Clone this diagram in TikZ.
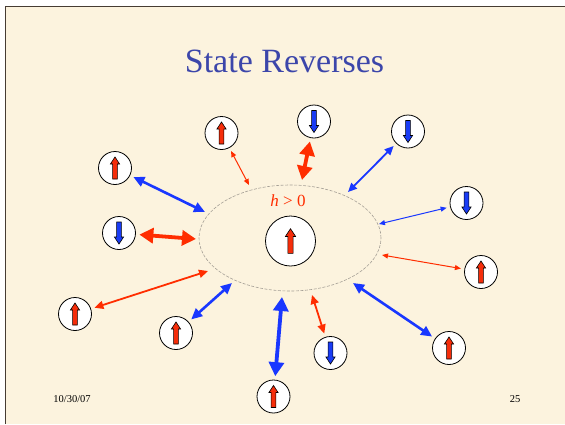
\documentclass[tikz,border=0pt]{standalone}
\usepackage{fontspec}
\setmainfont{Liberation Serif}
\usetikzlibrary{arrows.meta,shapes.geometric}

\definecolor{paper}{RGB}{252,243,222}
\definecolor{framecol}{RGB}{70,60,50}
\definecolor{titleblue}{RGB}{60,70,170}
\definecolor{linkred}{RGB}{255,45,0}
\definecolor{linkblue}{RGB}{25,55,255}
\definecolor{spinred}{RGB}{245,45,10}
\definecolor{spinblue}{RGB}{25,60,245}
\definecolor{fieldgray}{RGB}{165,160,150}

\tikzset{
  spin/.style={circle, draw=black, line width=0.8pt, fill=white,
               minimum size=33pt, inner sep=0pt},
  bigspin/.style={spin, minimum size=50pt},
  upspin/.pic={
    \draw[line width=0.6pt, fill=spinred]
      (0,-11) -- (4.6,-4) -- (2.4,-4) -- (2.4,11) -- (-2.4,11)
      -- (-2.4,-4) -- (-4.6,-4) -- cycle;},
  downspin/.pic={
    \draw[line width=0.6pt, fill=spinblue]
      (0,11) -- (4.6,4) -- (2.4,4) -- (2.4,-11) -- (-2.4,-11)
      -- (-2.4,4) -- (-4.6,4) -- cycle;},
  link/.style={<->, shorten <=3.5pt},
  w1/.style={link, line width=1pt, >={Triangle[length=6pt,width=5pt]}},
  w2/.style={link, line width=1.8pt, >={Triangle[length=9pt,width=8pt]}},
  w3/.style={link, line width=2.6pt, >={Triangle[length=11pt,width=10pt]}},
  w4/.style={link, line width=3.8pt, >={Triangle[length=14pt,width=15pt]}},
  red/.style={draw=linkred},
  blue/.style={draw=linkblue},
}

\begin{document}
\begin{tikzpicture}[x=1pt,y=-1pt]
\useasboundingbox (0,0) rectangle (565,424);
% slide background and frame
\fill[white] (0,0) rectangle (565,424);
\fill[paper] (5.5,6.5) rectangle (565,424);
\draw[framecol, line width=1.2pt] (5.5,424) -- (5.5,6.5) -- (565,6.5);

% title and footer
\node[anchor=base, text=titleblue, inner sep=0pt] (title) at (284.5,72)
  {\fontsize{34}{40}\selectfont State Reverses};
\node[anchor=base, inner sep=0pt] (date) at (72,402)
  {\fontsize{10.5}{12}\selectfont 10/30/07};
\node[anchor=base, inner sep=0pt] (page) at (515,402)
  {\fontsize{10.5}{12}\selectfont 25};

% field region with the central spin
\node[ellipse, draw=fieldgray, line width=0.6pt, dash pattern=on 3pt off 1.5pt,
      minimum width=182pt, minimum height=106pt, inner sep=0pt] (field) at (290,238) {};
\node[anchor=base, text=linkred, inner sep=0pt] (hlabel) at (288,206)
  {\fontsize{17}{20}\selectfont\textit{h} > 0};
\node[bigspin] (center) at (290.5,241) {};
\pic[scale=1.12] at (center) {upspin};

% surrounding spins
\node[spin] (s1)  at (221.5,133) {};
\node[spin] (s2)  at (314,121.5) {};
\node[spin] (s3)  at (408,131.5) {};
\node[spin] (s4)  at (466.5,203) {};
\node[spin] (s5)  at (481,272) {};
\node[spin] (s6)  at (449,348) {};
\node[spin] (s7)  at (330.5,353) {};
\node[spin] (s8)  at (273.5,396.5) {};
\node[spin] (s9)  at (176,333) {};
\node[spin] (s10) at (75,314) {};
\node[spin] (s11) at (119,233) {};
\node[spin] (s12) at (115,168) {};
\foreach \s in {s1,s5,s6,s8,s9,s10,s12} \pic at (\s) {upspin};
\foreach \s in {s2,s3,s4,s7,s11} \pic at (\s) {downspin};

% ends of the couplings on the field boundary
\coordinate (e1)  at (249,185);
\coordinate (e2)  at (302,180);
\coordinate (e3)  at (348,192);
\coordinate (e4)  at (379,224);
\coordinate (e5)  at (382,255);
\coordinate (e6)  at (353,283);
\coordinate (e7)  at (312,295);
\coordinate (e8)  at (282,297);
\coordinate (e9)  at (232,283);
\coordinate (e10) at (208,271);
\coordinate (e11) at (196,239);
\coordinate (e12) at (205,212);

% couplings
\draw[w1, red]  (s1)  -- (e1);
\draw[w4, red]  (s2)  -- (e2);
\draw[w2, blue] (s3)  -- (e3);
\draw[w1, blue] (s4)  -- (e4);
\draw[w1, red]  (s5)  -- (e5);
\draw[w3, blue] (s6)  -- (e6);
\draw[w2, red]  (s7)  -- (e7);
\draw[w4, blue] (s8)  -- (e8);
\draw[w3, blue] (s9)  -- (e9);
\draw[w2, red]  (s10) -- (e10);
\draw[w4, red]  (s11) -- (e11);
\draw[w3, blue] (s12) -- (e12);
\end{tikzpicture}
\end{document}
